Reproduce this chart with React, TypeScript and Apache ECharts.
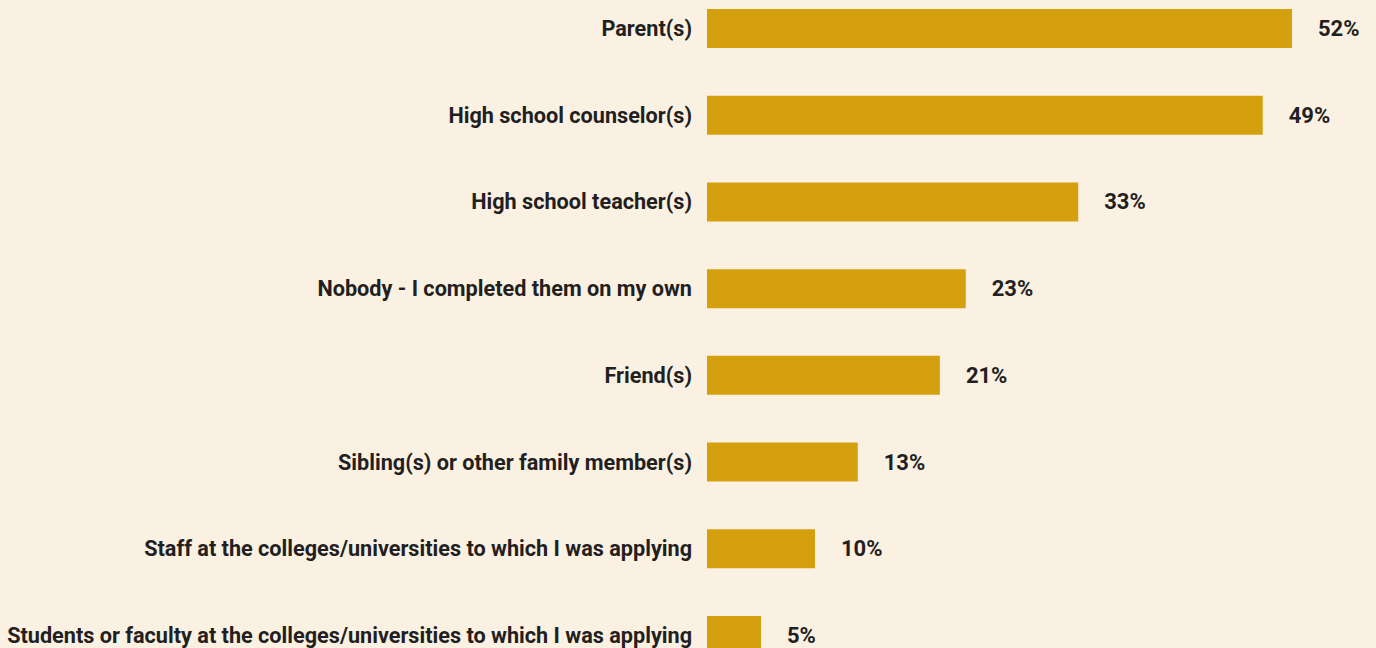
import React, { useEffect, useRef } from "react";
import * as echarts from "echarts";

const categories = [
  "Parent(s)",
  "High school counselor(s)",
  "High school teacher(s)",
  "Nobody - I completed them on my own",
  "Friend(s)",
  "Sibling(s) or other family member(s)",
  "Staff at the colleges/universities to which I was applying",
  "Students or faculty at the colleges/universities to which I was applying",
];
const values = [52, 49.4, 33, 23, 20.7, 13.4, 9.6, 4.8];
const valueLabels = ["52%", "49%", "33%", "23%", "21%", "13%", "10%", "5%"];

const FONT = "Roboto";

export default function App() {
  const ref = useRef<HTMLDivElement>(null);
  useEffect(() => {
    document.body.style.margin = "0";
    document.body.style.overflow = "hidden";
    const chart = echarts.init(ref.current!, null, { renderer: "svg" });
    chart.setOption({
      animation: false,
      backgroundColor: "#FAF1E3",
      grid: {
        left: 707,
        right: 16.5,
        top: -14.9,
        bottom: -30.9,
        containLabel: false,
        outerBoundsMode: "none",
      },
      xAxis: {
        type: "value",
        min: 0,
        max: 58,
        show: false,
      },
      yAxis: {
        type: "category",
        inverse: true,
        data: categories,
        axisLine: { show: false },
        axisTick: { show: false },
        splitLine: { show: false },
        axisLabel: {
          margin: 15,
          color: "#231F20",
          fontFamily: FONT,
          fontWeight: "bold",
          fontSize: 21.65,
        },
      },
      series: [
        {
          type: "bar",
          data: values,
          barWidth: 39,
          itemStyle: { color: "#D4A00E" },
          label: {
            show: true,
            position: "right",
            distance: 26,
            color: "#231F20",
            fontFamily: FONT,
            fontWeight: "bold",
            fontSize: 22,
            formatter: (p: any) => valueLabels[p.dataIndex],
          },
        },
      ],
    });
    return () => chart.dispose();
  }, []);
  return <div ref={ref} style={{ width: 1376, height: 648 }} />;
}
